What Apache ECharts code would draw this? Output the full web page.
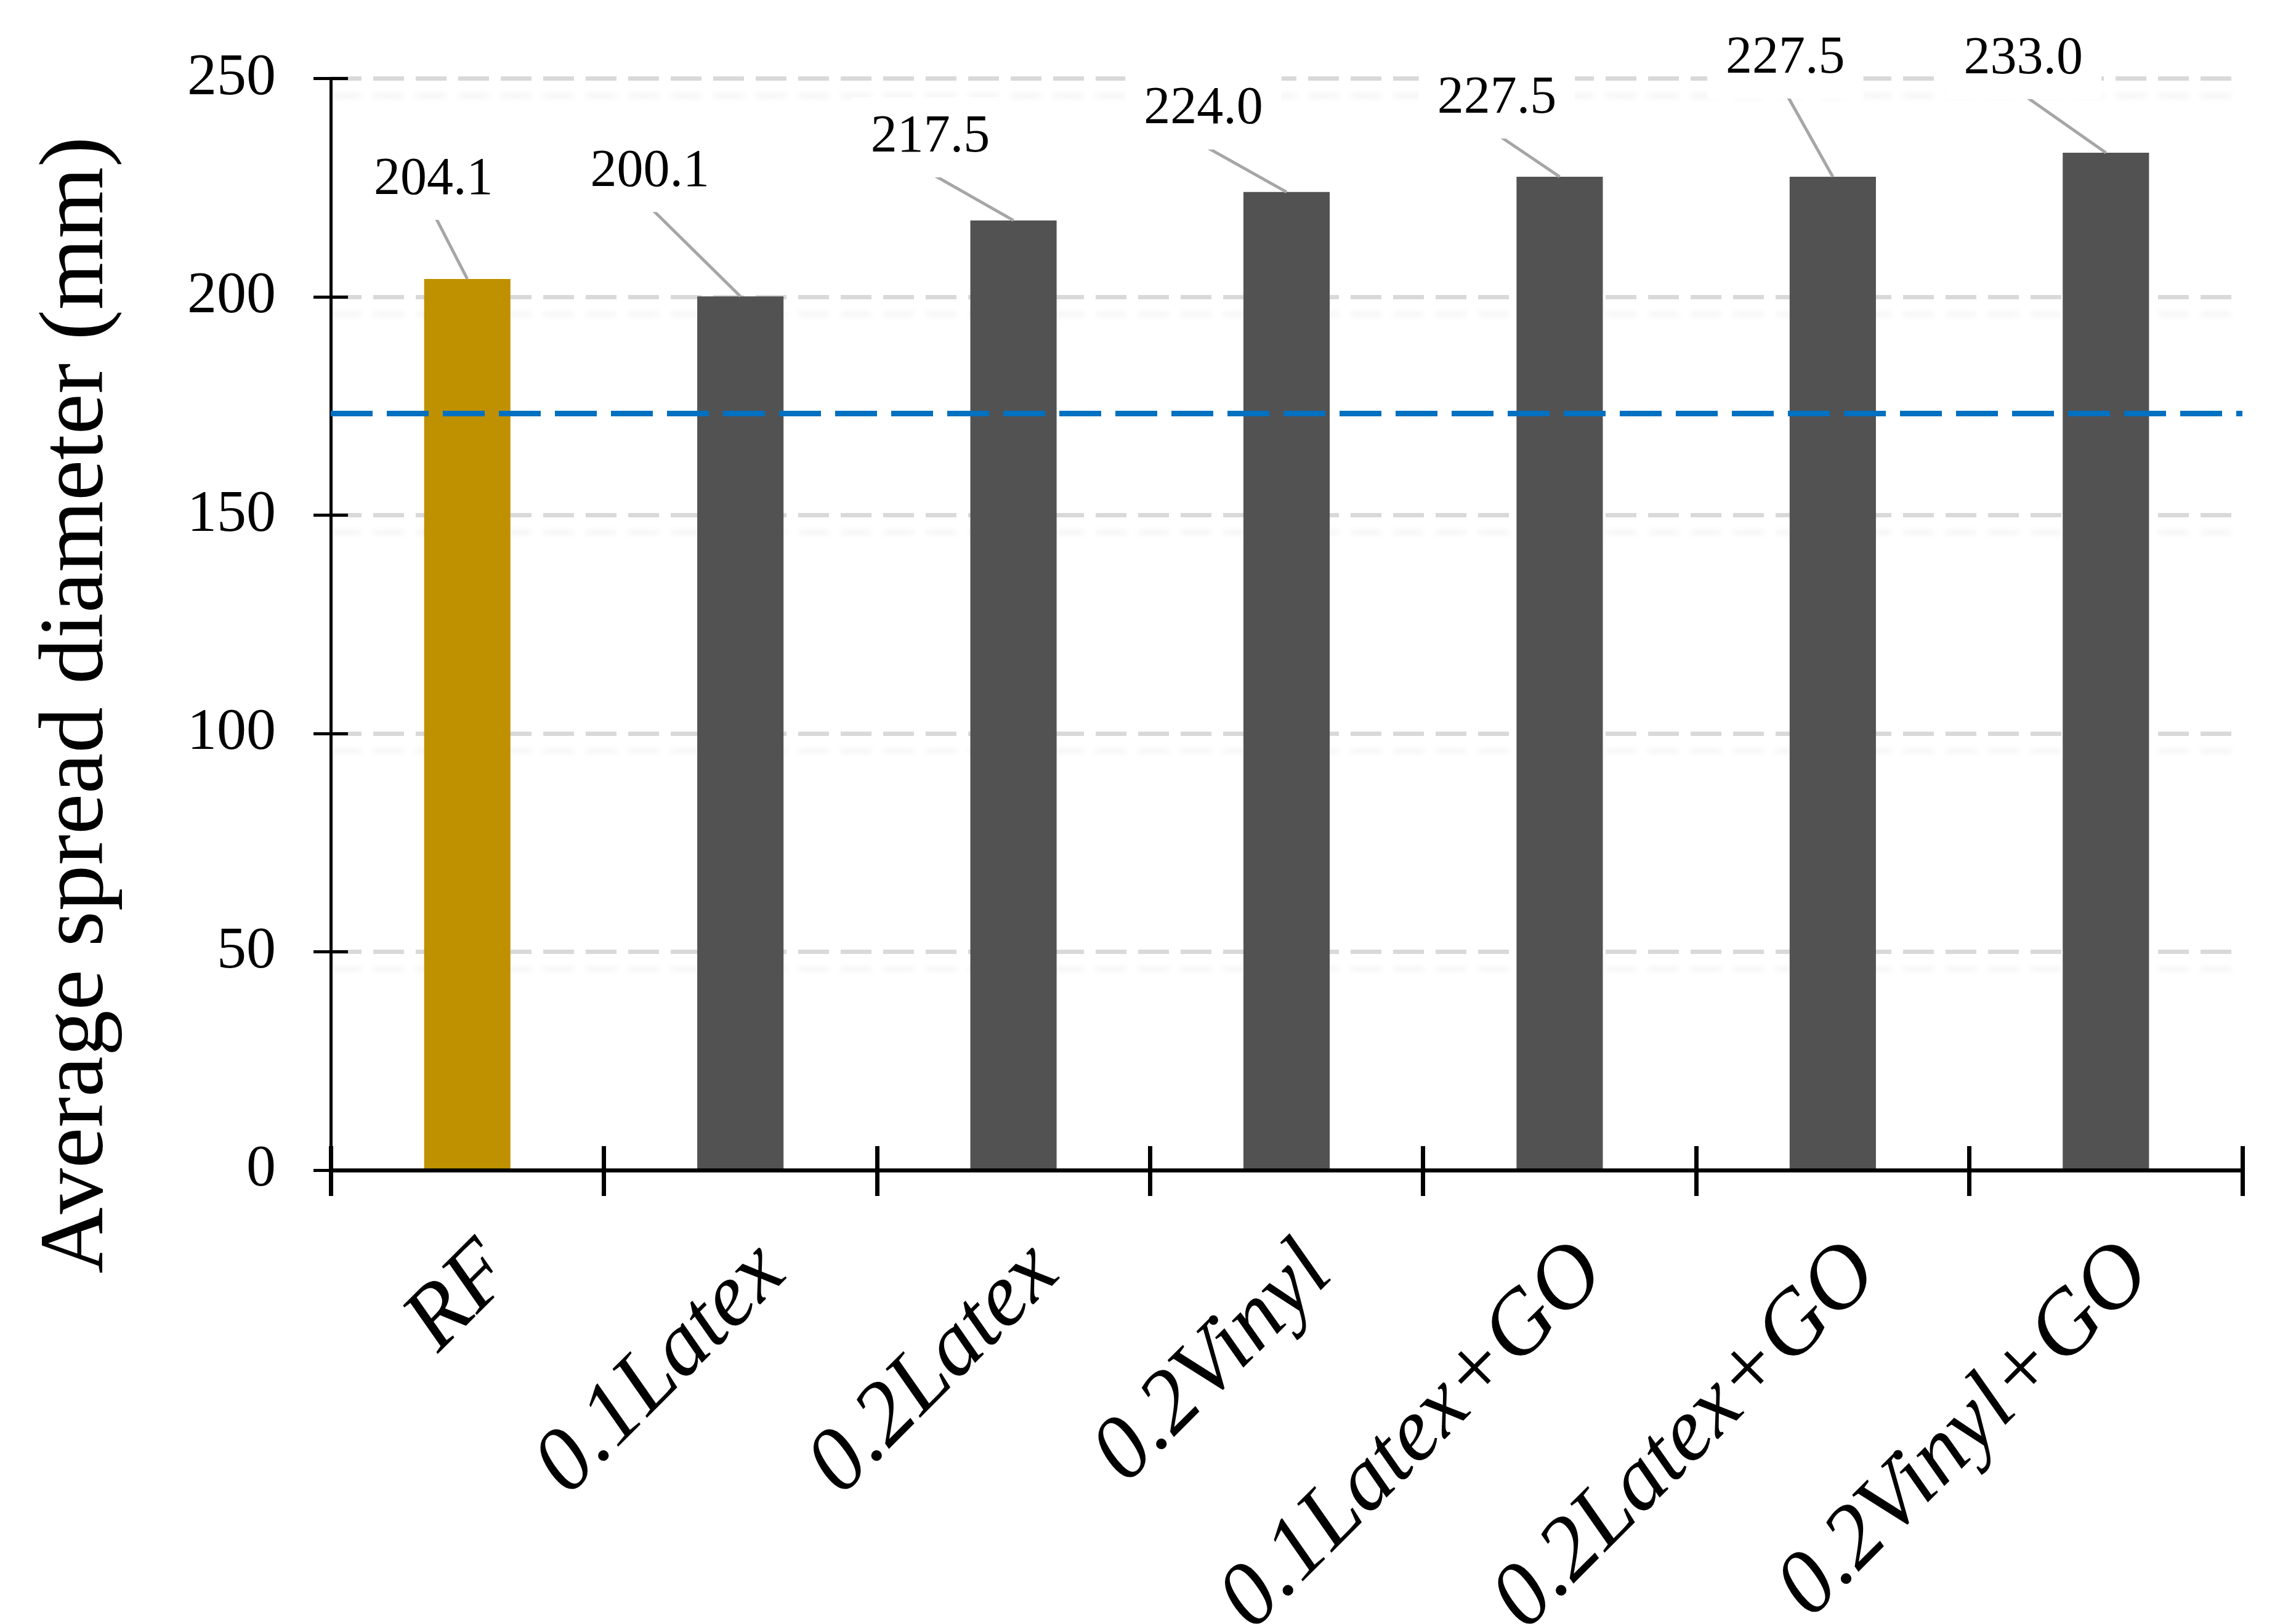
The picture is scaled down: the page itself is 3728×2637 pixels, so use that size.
<!DOCTYPE html>
<html><head><meta charset="utf-8">
<script src="https://cdn.jsdelivr.net/npm/echarts@6/dist/echarts.min.js"></script>
<style>html,body{margin:0;padding:0;background:#fff}#c{width:3728px;height:2637px}</style>
</head><body><div id="c"></div>
<script>
// ---- data ----
const categories = ['RF', '0.1Latex', '0.2Latex', '0.2Vinyl', '0.1Latex+GO', '0.2Latex+GO', '0.2Vinyl+GO'];
const spreadValues = [204.1, 200.1, 217.5, 224.0, 227.5, 227.5, 233.0];
const valueLabels = ['204.1', '200.1', '217.5', '224.0', '227.5', '227.5', '233.0'];
const referenceValue = 173.3;
const yTickLabels = [0, 50, 100, 150, 200, 250];

// ---- styles ----
const barColors = ['#BF9000', '#525252', '#525252', '#525252', '#525252', '#525252', '#525252'];
const labelOffsets = [[-55, -161], [-147, -202], [-135, -135], [-135, -134], [-102, -127], [-77, -192], [-134, -152]];
const serif = '"Liberation Serif", "Times New Roman", serif';

const chart = echarts.init(document.getElementById('c'), null, {renderer: 'canvas'});
const yMin = yTickLabels[0], yMax = yTickLabels[yTickLabels.length - 1];
const yStep = yTickLabels[1] - yTickLabels[0];

chart.setOption({
  animation: false,
  backgroundColor: '#fff',
  grid: {left: 537, right: 87, top: 127.5, bottom: 737, containLabel: false, outerBoundsMode: 'none'},
  xAxis: [{
    type: 'category',
    data: categories,
    position: 'bottom',
    z: 4,
    axisLine: {show: true, lineStyle: {color: '#000', width: 6.5}},
    axisTick: {show: true, inside: false, length: 42, lineStyle: {color: '#000', width: 7}},
    axisLabel: {
      rotate: 45, interval: 0, margin: 93, verticalAlign: 'top',
      fontFamily: serif, fontStyle: 'italic', fontSize: 146, color: '#000'
    },
    splitLine: {show: false}
  }, {
    type: 'category',
    data: categories,
    position: 'bottom',
    z: 4,
    axisLine: {show: false},
    axisTick: {show: true, inside: true, length: 39, lineStyle: {color: '#000', width: 7}},
    axisLabel: {show: false},
    splitLine: {show: false}
  }],
  yAxis: [{
    type: 'value',
    min: yMin, max: yMax, interval: yStep,
    position: 'left',
    name: 'Average spread diameter (mm)',
    nameLocation: 'middle',
    nameGap: 336,
    nameTextStyle: {fontFamily: serif, fontSize: 149, color: '#000', padding: [0, 262, 0, 0]},
    axisLine: {show: true, lineStyle: {color: '#000', width: 5}},
    axisTick: {show: true, inside: false, length: 28, lineStyle: {color: '#000', width: 5}},
    axisLabel: {margin: 89, fontFamily: serif, fontSize: 96, color: '#000'},
    splitLine: {
      show: true,
      showMinLine: false,
      lineStyle: {
        color: '#D9D9D9', width: 7, type: [50, 19],
        shadowColor: 'rgba(0,0,0,0.05)', shadowBlur: 10, shadowOffsetY: 28
      }
    }
  }, {
    type: 'value',
    min: yMin, max: yMax, interval: yStep,
    position: 'left',
    axisLine: {show: false},
    axisTick: {show: true, inside: true, length: 28, lineStyle: {color: '#000', width: 5}},
    axisLabel: {show: false},
    splitLine: {show: false}
  }],
  series: [{
    type: 'bar',
    xAxisIndex: 0, yAxisIndex: 0,
    barWidth: '31.6%',
    data: spreadValues.map((v, i) => ({value: v, itemStyle: {color: barColors[i]}})),
    markLine: {
      silent: true,
      symbol: ['none', 'none'],
      label: {show: false},
      lineStyle: {color: '#0070C0', width: 9, type: [68, 23]},
      data: [{yAxis: referenceValue}]
    },
    z: 2
  }, {
    type: 'custom',
    xAxisIndex: 0, yAxisIndex: 0,
    clip: false,
    z: 5,
    data: spreadValues.map((v, i) => [i, v]),
    encode: {x: 0, y: 1},
    renderItem: function (params, api) {
      const idx = params.dataIndex;
      const p = api.coord([api.value(0), api.value(1)]);
      const off = labelOffsets[idx];
      const lx = p[0] + off[0], ly = p[1] + off[1];
      return {
        type: 'group',
        children: [{
          type: 'line',
          shape: {x1: lx + 3, y1: ly + 60, x2: p[0], y2: p[1]},
          style: {stroke: '#A6A6A6', lineWidth: 5}
        }, {
          type: 'text',
          x: lx, y: ly,
          style: {
            text: valueLabels[idx],
            fontFamily: serif, fontSize: 86, fill: '#000',
            align: 'center', verticalAlign: 'middle',
            backgroundColor: '#fff', padding: [24, 30, 20, 30]
          }
        }]
      };
    }
  }]
});
</script>
</body></html>
